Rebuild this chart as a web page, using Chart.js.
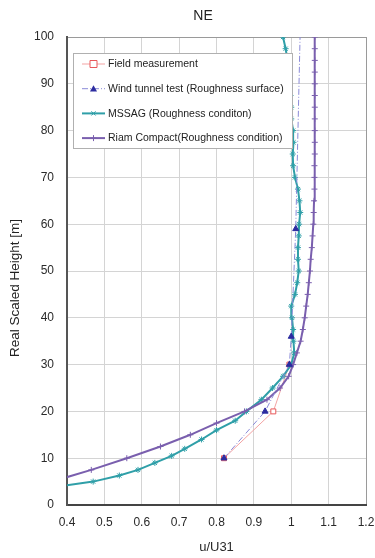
<!DOCTYPE html>
<html lang="en">
  <head>
    <meta charset="UTF-8" />
    <title>NE</title>
    <script src="https://cdn.jsdelivr.net/npm/chart.js@4.4.0/dist/chart.umd.min.js"></script>
    <style>
      body {
        margin: 0;
        background: #ffffff;
      }
      #wrap {
        position: relative;
        width: 375px;
        height: 558px;
      }
    </style>
  </head>
  <body>
    <div id="wrap">
      <canvas id="profileChart" width="375" height="558"></canvas>
    </div>

    <script>
      // u/U31 vs height
      const fieldU = [0.82, 0.952, 0.995];
      const fieldH = [10, 20, 30];

      const windU = [0.82, 0.93, 0.995, 1.0, 1.012, 1.025];
      const windH = [10, 20, 30, 36, 59, 105];

      const mssagU = [0.38, 0.47, 0.54, 0.59, 0.635, 0.68, 0.715, 0.76, 0.8, 0.85, 0.88, 0.92, 0.95, 0.978, 1.0, 1.008, 1.006, 1.005, 1.002, 1.0, 1.01, 1.016, 1.02, 1.018, 1.018, 1.02, 1.021, 1.024, 1.022, 1.018, 1.01, 1.005, 1.004, 1.006, 1.005, 1.0, 1.0, 0.998, 0.996, 0.994, 0.99, 0.985, 0.978];
      const mssagH = [4, 5, 6.3, 7.5, 9, 10.5, 12, 14, 16, 18, 20, 22.5, 25, 27.5, 30, 32.5, 35, 37.5, 40, 42.5, 45, 47.5, 50, 52.5, 55, 57.5, 60, 62.5, 65, 67.5, 70, 72.5, 75, 77.5, 80, 82.5, 85, 87.5, 90, 92.5, 95, 97.5, 100];

      const riamU = [0.36, 0.465, 0.56, 0.65, 0.73, 0.8, 0.875, 0.935, 0.97, 0.993, 1.005, 1.015, 1.025, 1.031, 1.036, 1.04, 1.044, 1.047, 1.05, 1.052, 1.055, 1.057, 1.059, 1.06, 1.061, 1.062, 1.062, 1.062, 1.063, 1.063, 1.063, 1.063, 1.063, 1.063, 1.063, 1.063, 1.063, 1.063, 1.063];
      const riamH = [5, 7.5, 10, 12.5, 15, 17.5, 20, 22.5, 25, 27.5, 30, 32.5, 35, 37.5, 40, 42.5, 45, 47.5, 50, 52.5, 55, 57.5, 60, 62.5, 65, 67.5, 70, 72.5, 75, 77.5, 80, 82.5, 85, 87.5, 90, 92.5, 95, 97.5, 100];

      const seriesNames = [
        "Field measurement",
        "Wind tunnel test (Roughness surface)",
        "MSSAG (Roughness conditon)",
        "Riam Compact(Roughness condition)",
      ];
      const chartTitle = "NE";
      const yTitle = "Real Scaled Height [m]";
      const xTitle = "u/U31";

      const FONT = 'Arial, "Liberation Sans", sans-serif';

      function toPoints(us, hs) {
        return us.map((u, i) => ({ x: u, y: hs[i] }));
      }

      // small marker painter used by the boxed legend
      function drawMarker(ctx, style, x, y, r, stroke, fill) {
        ctx.save();
        ctx.strokeStyle = stroke;
        ctx.fillStyle = fill;
        ctx.lineWidth = 1;
        ctx.beginPath();
        if (style === "rect") {
          ctx.rect(x - r, y - r, 2 * r, 2 * r);
          ctx.fill();
          ctx.stroke();
        } else if (style === "triangle") {
          ctx.moveTo(x, y - r);
          ctx.lineTo(x + r, y + r * 0.8);
          ctx.lineTo(x - r, y + r * 0.8);
          ctx.closePath();
          ctx.fill();
        } else if (style === "star") {
          ctx.moveTo(x - r, y); ctx.lineTo(x + r, y);
          ctx.moveTo(x - r * 0.7, y - r * 0.7); ctx.lineTo(x + r * 0.7, y + r * 0.7);
          ctx.moveTo(x + r * 0.7, y - r * 0.7); ctx.lineTo(x - r * 0.7, y + r * 0.7);
          ctx.stroke();
        } else {
          ctx.moveTo(x, y - r); ctx.lineTo(x, y + r);
          ctx.moveTo(x - r, y); ctx.lineTo(x + r, y);
          ctx.stroke();
        }
        ctx.restore();
      }

      // boxed legend inside the plot + the titles (placed off-centre like the original)
      const boxLegend = {
        id: "boxLegend",
        afterDraw(chart) {
          const ctx = chart.ctx;
          const area = chart.chartArea;
          const bx = area.left + 6, by = area.top + 16, bw = 219, bh = 95;
          ctx.save();
          ctx.fillStyle = "#ffffff";
          ctx.fillRect(bx, by, bw, bh);
          ctx.strokeStyle = "#b0b0b0";
          ctx.lineWidth = 1;
          ctx.strokeRect(bx + 0.5, by + 0.5, bw, bh);
          ctx.font = "10.5px " + FONT;
          ctx.textBaseline = "middle";
          chart.data.datasets.forEach((ds, i) => {
            const y = by + 11 + i * 24.7;
            const x0 = bx + 9, x1 = bx + 32;
            ctx.strokeStyle = ds.legendLine;
            ctx.lineWidth = ds.borderWidth;
            ctx.setLineDash(ds.borderDash || []);
            ctx.beginPath();
            ctx.moveTo(x0, y);
            ctx.lineTo(x1, y);
            ctx.stroke();
            ctx.setLineDash([]);
            drawMarker(ctx, ds.pointStyle, (x0 + x1) / 2, y, ds.pointRadius,
              ds.pointBorderColor, ds.pointBackgroundColor);
            ctx.fillStyle = "#222222";
            ctx.fillText(ds.label, bx + 35, y + 0.5);
          });

          ctx.fillStyle = "#222222";
          ctx.textAlign = "center";
          ctx.font = "14px " + FONT;
          ctx.fillText(chartTitle, 203, 16);

          ctx.font = "13.5px " + FONT;
          ctx.translate(15, 288);
          ctx.rotate(-Math.PI / 2);
          ctx.fillText(yTitle, 0, 0);
          ctx.restore();
        },
      };

      const ctx = document.getElementById("profileChart").getContext("2d");
      const chart = new Chart(ctx, {
        type: "scatter",
        data: {
          datasets: [
            {
              label: seriesNames[0],
              data: toPoints(fieldU, fieldH),
              showLine: true,
              borderColor: "#f3a3a3",
              legendLine: "#f3a3a3",
              borderWidth: 1,
              borderDash: [],
              pointStyle: "rect",
              pointRadius: 3.5,
              pointBorderColor: "#e8585a",
              pointBackgroundColor: "#ffffff",
              pointBorderWidth: 1,
              order: 4,
            },
            {
              label: seriesNames[1],
              data: toPoints(windU, windH),
              showLine: true,
              borderColor: "#8a8ad8",
              legendLine: "#8a8ad8",
              borderWidth: 1,
              borderDash: [6, 2, 1, 2],
              pointStyle: "triangle",
              pointRadius: 3.5,
              pointBorderColor: "#2c2ca0",
              pointBackgroundColor: "#2c2ca0",
              pointBorderWidth: 1,
              order: 1,
            },
            {
              label: seriesNames[2],
              data: toPoints(mssagU, mssagH),
              showLine: true,
              borderColor: "#2f9fa8",
              legendLine: "#2f9fa8",
              borderWidth: 2,
              pointStyle: "star",
              pointRadius: 3,
              pointBorderColor: "#2f9fa8",
              pointBackgroundColor: "#2f9fa8",
              pointBorderWidth: 1,
              order: 3,
            },
            {
              label: seriesNames[3],
              data: toPoints(riamU, riamH),
              showLine: true,
              borderColor: "#7a5fae",
              legendLine: "#7a5fae",
              borderWidth: 2,
              pointStyle: "cross",
              pointRadius: 3,
              pointBorderColor: "#7a5fae",
              pointBackgroundColor: "#7a5fae",
              pointBorderWidth: 1,
              order: 2,
            },
          ],
        },
        options: {
          responsive: false,
          animation: false,
          layout: { padding: { left: 0, right: 0, top: 37, bottom: 0 } },
          plugins: {
            legend: { display: false },
            tooltip: { enabled: false },
            title: { display: false },
          },
          scales: {
            x: {
              type: "linear",
              min: 0.4,
              max: 1.2,
              afterFit: (scale) => {
                scale.height = 53;
                scale.paddingLeft = 0;
                scale.paddingRight = 9;
              },
              ticks: {
                stepSize: 0.1,
                padding: 10,
                color: "#2a2a2a",
                font: { family: FONT, size: 12 },
                callback: (v) => String(Number(v.toFixed(1))),
              },
              grid: {
                drawTicks: false,
                color: (c) => (c.tick && Math.abs(c.tick.value - 1.2) < 1e-6 ? "#9a9a9a" : "#d4d4d4"),
              },
              border: { color: "#444444", width: 2 },
              title: {
                display: true,
                text: xTitle,
                color: "#2a2a2a",
                font: { family: FONT, size: 13 },
                padding: { top: 0, bottom: 3 },
              },
            },
            y: {
              min: 0,
              max: 100,
              afterFit: (scale) => { scale.width = 67; },
              ticks: {
                stepSize: 10,
                padding: 13,
                color: "#2a2a2a",
                font: { family: FONT, size: 12 },
              },
              grid: {
                drawTicks: false,
                color: (c) => (c.tick && c.tick.value === 100 ? "#9a9a9a" : "#d4d4d4"),
              },
              border: { color: "#555555", width: 2 },
              title: { display: false },
            },
          },
        },
        plugins: [boxLegend],
      });
    </script>
  </body>
</html>
